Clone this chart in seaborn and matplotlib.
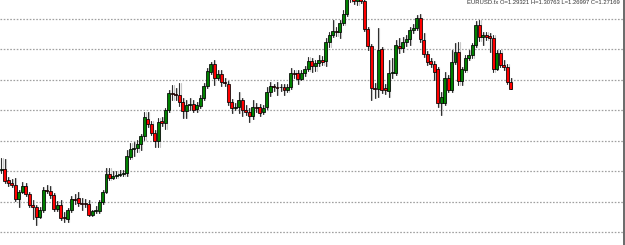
import matplotlib
matplotlib.use("Agg")
import matplotlib.pyplot as plt
import numpy as np
import pandas as pd
import seaborn as sns

opens = [
    1.004, 1.008, 0.972, 0.962, 0.955, 0.909, 0.932, 0.952, 0.926, 0.890,
    0.883, 0.850, 0.873, 0.939, 0.936, 0.922, 0.877, 0.890, 0.850, 0.844,
    0.873, 0.909, 0.913, 0.896, 0.895, 0.893, 0.857, 0.870, 0.870, 0.899,
    0.932, 0.991, 0.978, 0.985, 0.988, 0.991, 0.995, 1.047, 1.073, 1.077,
    1.090, 1.116, 1.172, 1.155, 1.126, 1.100, 1.165, 1.159, 1.201, 1.257,
    1.254, 1.250, 1.227, 1.198, 1.218, 1.221, 1.204, 1.214, 1.241, 1.280,
    1.326, 1.352, 1.306, 1.319, 1.293, 1.287, 1.227, 1.208, 1.211, 1.234,
    1.201, 1.195, 1.182, 1.211, 1.211, 1.195, 1.211, 1.260, 1.280, 1.277,
    1.276, 1.277, 1.267, 1.277, 1.323, 1.323, 1.303, 1.323, 1.336, 1.362,
    1.346, 1.355, 1.365, 1.362, 1.424, 1.447, 1.460, 1.457, 1.487, 1.516,
    1.578, 1.565, 1.559, 1.572, 1.559, 1.467, 1.411, 1.273, 1.270, 1.401,
    1.273, 1.264, 1.323, 1.323, 1.411, 1.405, 1.424, 1.434, 1.464, 1.470,
    1.503, 1.431, 1.385, 1.362, 1.352, 1.336, 1.224, 1.224, 1.306, 1.267,
    1.359, 1.391, 1.296, 1.332, 1.372, 1.382, 1.414, 1.480, 1.441, 1.447,
    1.444, 1.437, 1.336, 1.388, 1.349, 1.342, 1.29321,
]
highs = [
    1.044, 1.040, 0.981, 0.975, 0.978, 0.939, 0.965, 0.962, 0.932, 0.906,
    0.890, 0.883, 0.949, 0.955, 0.952, 0.929, 0.903, 0.906, 0.867, 0.880,
    0.919, 0.926, 0.932, 0.913, 0.909, 0.906, 0.873, 0.886, 0.906, 0.939,
    1.011, 1.011, 1.001, 1.001, 1.004, 1.004, 1.070, 1.093, 1.096, 1.103,
    1.122, 1.195, 1.195, 1.165, 1.136, 1.175, 1.178, 1.208, 1.267, 1.283,
    1.273, 1.290, 1.241, 1.234, 1.241, 1.234, 1.227, 1.250, 1.290, 1.339,
    1.359, 1.365, 1.332, 1.332, 1.306, 1.296, 1.237, 1.224, 1.260, 1.241,
    1.218, 1.208, 1.234, 1.224, 1.221, 1.218, 1.277, 1.293, 1.287, 1.293,
    1.287, 1.287, 1.287, 1.339, 1.332, 1.332, 1.332, 1.346, 1.375, 1.372,
    1.365, 1.382, 1.378, 1.437, 1.457, 1.496, 1.473, 1.496, 1.529, 1.588,
    1.601, 1.595, 1.588, 1.601, 1.569, 1.473, 1.418, 1.290, 1.470, 1.408,
    1.287, 1.365, 1.372, 1.431, 1.437, 1.441, 1.447, 1.473, 1.483, 1.513,
    1.516, 1.454, 1.395, 1.372, 1.362, 1.342, 1.260, 1.326, 1.316, 1.398,
    1.421, 1.424, 1.342, 1.382, 1.398, 1.421, 1.493, 1.496, 1.457, 1.457,
    1.454, 1.447, 1.398, 1.398, 1.365, 1.352, 1.30763,
]
lows = [
    0.995, 0.962, 0.952, 0.949, 0.903, 0.883, 0.929, 0.919, 0.883, 0.844,
    0.824, 0.847, 0.867, 0.929, 0.913, 0.870, 0.870, 0.840, 0.834, 0.834,
    0.867, 0.893, 0.886, 0.873, 0.883, 0.854, 0.854, 0.863, 0.863, 0.893,
    0.929, 0.972, 0.975, 0.978, 0.985, 0.985, 0.985, 1.040, 1.050, 1.063,
    1.070, 1.103, 1.145, 1.119, 1.080, 1.080, 1.149, 1.139, 1.195, 1.234,
    1.234, 1.214, 1.175, 1.175, 1.201, 1.195, 1.195, 1.208, 1.234, 1.273,
    1.319, 1.283, 1.300, 1.280, 1.280, 1.218, 1.191, 1.201, 1.191, 1.182,
    1.185, 1.162, 1.172, 1.195, 1.182, 1.188, 1.204, 1.247, 1.264, 1.250,
    1.264, 1.250, 1.260, 1.270, 1.306, 1.287, 1.300, 1.313, 1.329, 1.326,
    1.329, 1.346, 1.349, 1.346, 1.408, 1.441, 1.444, 1.437, 1.480, 1.510,
    1.556, 1.549, 1.546, 1.552, 1.460, 1.398, 1.234, 1.241, 1.244, 1.257,
    1.254, 1.244, 1.306, 1.316, 1.388, 1.391, 1.411, 1.414, 1.454, 1.464,
    1.424, 1.375, 1.349, 1.342, 1.300, 1.211, 1.185, 1.218, 1.260, 1.260,
    1.352, 1.283, 1.283, 1.326, 1.365, 1.372, 1.408, 1.428, 1.414, 1.431,
    1.391, 1.326, 1.332, 1.342, 1.332, 1.287, 1.26997,
]
closes = [
    1.008, 0.968, 0.962, 0.955, 0.909, 0.932, 0.952, 0.926, 0.890, 0.883,
    0.850, 0.873, 0.939, 0.936, 0.922, 0.877, 0.890, 0.847, 0.847, 0.873,
    0.909, 0.906, 0.896, 0.893, 0.893, 0.857, 0.870, 0.873, 0.899, 0.932,
    0.991, 0.978, 0.985, 0.988, 0.991, 0.995, 1.050, 1.073, 1.077, 1.090,
    1.116, 1.178, 1.155, 1.126, 1.100, 1.162, 1.159, 1.201, 1.257, 1.254,
    1.250, 1.227, 1.198, 1.218, 1.221, 1.201, 1.218, 1.241, 1.280, 1.329,
    1.352, 1.306, 1.319, 1.293, 1.290, 1.227, 1.208, 1.211, 1.234, 1.201,
    1.195, 1.182, 1.211, 1.208, 1.191, 1.208, 1.260, 1.280, 1.277, 1.275,
    1.278, 1.267, 1.277, 1.323, 1.319, 1.303, 1.323, 1.336, 1.362, 1.346,
    1.355, 1.365, 1.359, 1.424, 1.447, 1.460, 1.457, 1.487, 1.516, 1.578,
    1.565, 1.559, 1.572, 1.559, 1.467, 1.411, 1.273, 1.270, 1.398, 1.267,
    1.267, 1.323, 1.326, 1.414, 1.405, 1.424, 1.434, 1.464, 1.470, 1.503,
    1.434, 1.385, 1.359, 1.352, 1.326, 1.224, 1.244, 1.306, 1.267, 1.359,
    1.391, 1.296, 1.336, 1.372, 1.382, 1.414, 1.480, 1.441, 1.447, 1.441,
    1.437, 1.336, 1.388, 1.349, 1.342, 1.293, 1.27169,
]
grid_levels = [0.8, 0.9, 1.0, 1.1, 1.2, 1.3, 1.4, 1.5]
header = "EURUSD.fx O=1.29321 H=1.30763 L=1.26997 C=1.27169"

n = min(len(opens), len(highs), len(lows), len(closes))
df = pd.DataFrame({
    "i": np.arange(n),
    "open": opens[:n], "high": highs[:n], "low": lows[:n], "close": closes[:n],
})
df["up"] = df["close"] >= df["open"]
df["bottom"] = df[["open", "close"]].min(axis=1)
df["height"] = (df["close"] - df["open"]).abs()

wicks = pd.DataFrame({
    "i": np.repeat(df["i"].values, 2),
    "price": np.column_stack([df["low"].values, df["high"].values]).ravel(),
})

sns.set_theme(style="white")
plt.rcParams["font.family"] = ["DejaVu Sans"]

fig = plt.figure(figsize=(6.25, 2.45), dpi=100)
ax = fig.add_axes([0, 0, 623.5 / 625, 1])

for lv in grid_levels:
    ax.axhline(lv, color="#a0a0a0", lw=0.9, ls=(0, (1.3, 1.3)), zorder=0)

# light ghost wick
ghost = wicks.copy()
ghost["i"] = ghost["i"] + 0.35
sns.lineplot(data=ghost, x="i", y="price", units="i", estimator=None,
             color="#c8c8c8", lw=0.8, ax=ax, legend=False, sort=False, zorder=1)
sns.lineplot(data=wicks, x="i", y="price", units="i", estimator=None,
             color="#303030", lw=0.8, ax=ax, legend=False, sort=False, zorder=2)

colors = np.where(df["up"], "#008000", "#ff0000")
ax.bar(df["i"], df["height"], bottom=df["bottom"], width=0.85,
       color=colors, edgecolor="black", linewidth=0.55, zorder=3)

ax.set_xlim(-0.372, 178.28)
ax.set_ylim(0.7584, 1.562)
ax.set_xticks([])
ax.set_yticks([])
ax.set_xlabel("")
ax.set_ylabel("")
for side in ["top", "left", "bottom"]:
    ax.spines[side].set_visible(False)
ax.spines["right"].set_visible(True)
ax.spines["right"].set_color("#505050")
ax.spines["right"].set_linewidth(1.2)

ax.text(620 / 623.5, 1 - 4.5 / 245, header, transform=ax.transAxes,
        ha="right", va="baseline", fontsize=4.2, color="#333333",
        family=["Liberation Sans Narrow", "Liberation Sans", "DejaVu Sans"])

fig.savefig("out.png", dpi=100)
